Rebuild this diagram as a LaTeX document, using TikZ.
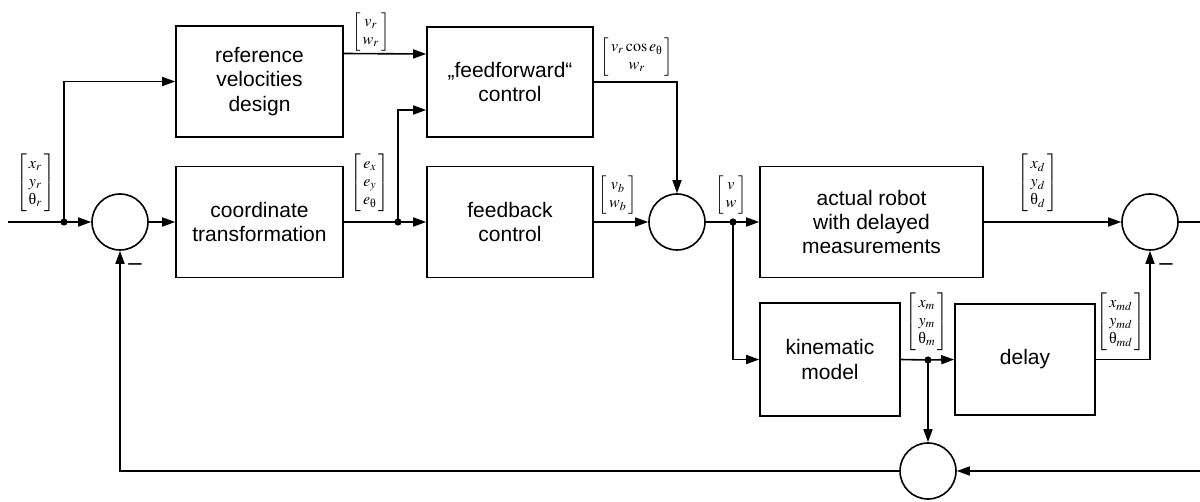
\documentclass[tikz,border=0pt]{standalone}
\usepackage{mathptmx}
\usepackage{amsmath}
\usepackage{fontspec}
\setmainfont{Liberation Sans}
\newfontfamily\gkfont{Liberation Serif}
\usetikzlibrary{arrows.meta,calc}
\newcommand\mvec[1]{$\left[\begin{array}{@{\,}c@{\,}}#1\end{array}\right]$}
\newcommand\thup{\text{\gkfont θ}}
\begin{document}
\begin{tikzpicture}[x=0.5pt,y=-0.5pt,
  line width=0.8pt,
  blk/.style={draw,rectangle,inner sep=0pt,align=center,font=\fontsize{10.5}{12.2}\selectfont},
  sumc/.style={draw,circle,minimum size=28pt,inner sep=0pt},
  lab/.style={inner sep=0pt,font=\fontsize{8}{9}\selectfont},
  arr/.style={-{Triangle[length=6.5pt,width=4.5pt]}},
  dot/.style={circle,fill,inner sep=0pt,minimum size=3.6pt},
  minus/.style={inner sep=0pt,font=\fontsize{12}{12}\selectfont}]
\useasboundingbox (0,0) rectangle (1200,502);
% blocks
\node[blk,minimum width=83.5pt,minimum height=55.5pt] (rvd) at (259.5,81.5) {reference\\velocities\\design};
\node[blk,minimum width=83.5pt,minimum height=55.5pt] (ct) at (259.5,222) {coordinate\\transformation};
\node[blk,minimum width=83pt,minimum height=55pt] (ff) at (510,82) {„feedforward“\\control};
\node[blk,minimum width=83pt,minimum height=55.5pt] (fb) at (510,222) {feedback\\control};
\node[blk,minimum width=111.5pt,minimum height=55.5pt] (rob) at (871.5,222) {actual robot\\with delayed\\measurements};
\node[blk,minimum width=70pt,minimum height=56.5pt] (kin) at (830,359.5) {kinematic\\model};
\node[blk,minimum width=70pt,minimum height=55.5pt] (del) at (1025,359.5) {delay};
% summing junctions
\node[sumc] (c1) at (120,222) {};
\node[sumc] (c2) at (677,222) {};
\node[sumc] (c3) at (1150,222) {};
\node[sumc] (c4) at (928,471) {};
% branch points and ends
\coordinate (in) at (8,222);
\node[dot] (j1) at (64,222) {};
\node[dot] (j2) at (398,222) {};
\node[dot] (j3) at (733,222) {};
\node[dot] (j4) at (928,360) {};
\coordinate (out) at (1200,222);
\coordinate (fbin) at (1200,471);
% connectors
\draw[arr] (in) -- (c1.west);
\draw[arr] (j1.center) |- (rvd.west);
\draw[arr] (c1.east) -- (ct.west);
\draw (ct.east) -- (j2.center);
\draw[arr] (j2.center) -- (fb.west);
\draw[arr] (j2.center) |- ($(ff.west)+(0,28)$);
\draw[arr] ($(rvd.east)+(0,-28)$) -- ($(ff.west)+(0,-28)$);
\draw[arr] (ff.east) -| (c2.north);
\draw[arr] (fb.east) -- (c2.west);
\draw (c2.east) -- (j3.center);
\draw[arr] (j3.center) -- (rob.west);
\draw[arr] (j3.center) |- (kin.west);
\draw[arr] (rob.east) -- (c3.west);
\draw (c3.east) -- (out);
\draw (kin.east) -- (j4.center);
\draw[arr] (j4.center) -- (del.west);
\draw[arr] (j4.center) -- (c4.north);
\draw[arr] (del.east) -| (c3.south);
\draw[arr] (fbin) -- (c4.east);
\draw[arr] (c4.west) -| (c1.south);
% minus signs
\node[minus] (m1) at (135,267) {–};
\node[minus] (m3) at (1166,267) {–};
% signal labels
\node[lab] (lxr) at (35.5,183) {\mvec{x_r\\ y_r\\ \thup_{r}}};
\node[lab] (lvr) at (371,32) {\mvec{v_r\\ w_r}};
\node[lab] (lff) at (637,57) {\mvec{v_r\cos e_{\thup}\\ w_r}};
\node[lab] (le) at (370,183) {\mvec{e_x\\ e_y\\ e_{\thup}}};
\node[lab] (lvb) at (618,195) {\mvec{v_b\\ w_b}};
\node[lab] (lvw) at (731,195) {\mvec{v\\ w}};
\node[lab] (lxd) at (1038,183) {\mvec{x_d\\ y_d\\ \thup_{d}}};
\node[lab] (lxm) at (927,322) {\mvec{x_m\\ y_m\\ \thup_{m}}};
\node[lab] (lxmd) at (1121,322) {\mvec{x_{md}\\ y_{md}\\ \thup_{md}}};
\end{tikzpicture}
\end{document}
